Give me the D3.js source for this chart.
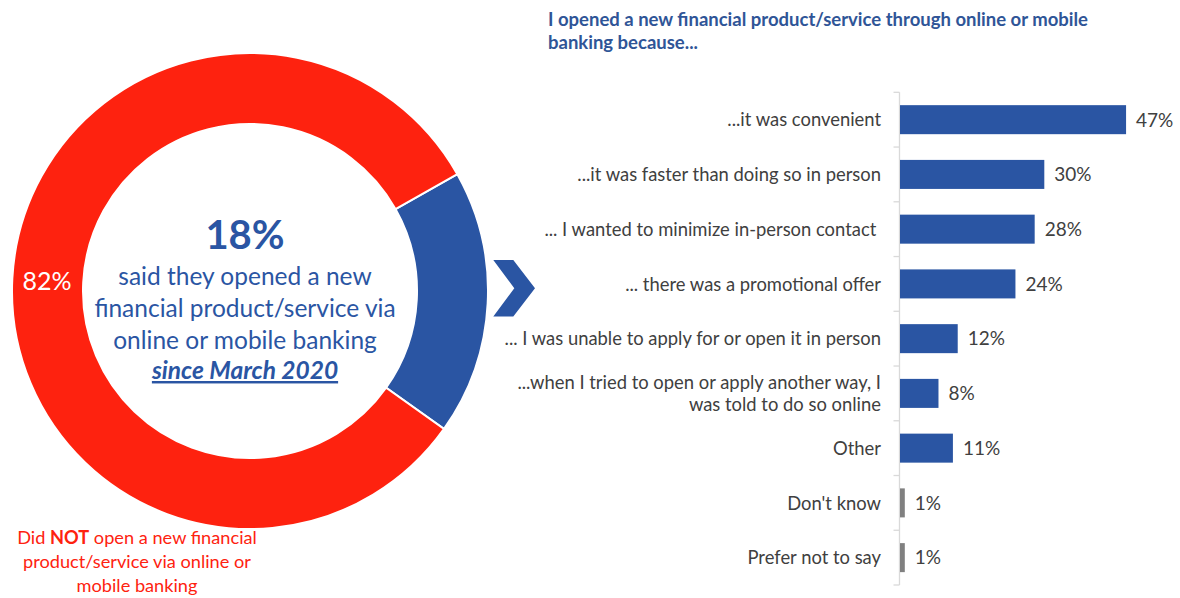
<!DOCTYPE html>
<html>
<head>
<meta charset="utf-8">
<script src="https://cdn.jsdelivr.net/npm/d3@7"></script>
<style>
  html, body { margin: 0; padding: 0; background: #fff; }
  svg { display: block; font-family: Lato, "Open Sans", sans-serif; }
</style>
</head>
<body>
<svg id="chart" width="1180" height="598"></svg>
<script>
// Share of respondents who opened a new product via online/mobile banking
const donutLabels = ["Opened via online or mobile banking", "Did not open"];
const donutValues = [18, 82];

// Reasons given by those who opened one
const reasons = [
  "...it was convenient",
  "...it was faster than doing so in person",
  "... I wanted to minimize in-person contact ",
  "... there was a promotional offer",
  "... I was unable to apply for or open it in person",
  "...when I tried to open or apply another way, I\nwas told to do so online",
  "Other",
  "Don't know",
  "Prefer not to say"
];
const reasonValues = [47, 30, 28, 24, 12, 8, 11, 1, 1];
const greyReasons = ["Don't know", "Prefer not to say"];

const titleLines = [
  "I opened a new financial product/service through online or mobile",
  "banking because..."
];
const centerLines = [
  "said they opened a new",
  "financial product/service via",
  "online or mobile banking"
];
const centerEmphasis = "since March 2020";
const notOpenedLines = [
  ["Did ", "NOT", " open a new financial"],
  ["product/service via online or"],
  ["mobile banking"]
];

const BLUE = "#2A55A3";
const RED = "#FE220F";
const GREY = "#808080";
const TEXT = "#404040";

const svg = d3.select("#chart");

// ---------- Donut ----------
const cx = 250, cy = 291, outerR = 238, innerR = 167;
const start = 60.6 * Math.PI / 180;
const pie = d3.pie().sort(null).startAngle(start).endAngle(start + 2 * Math.PI);
const arc = d3.arc().innerRadius(innerR).outerRadius(outerR);
const arcs = pie(donutValues);
const donut = svg.append("g").attr("transform", `translate(${cx},${cy})`);
donut.selectAll("path")
  .data(arcs)
  .join("path")
  .attr("d", arc)
  .attr("fill", (d, i) => i === 0 ? BLUE : RED)
  .attr("stroke", "#fff")
  .attr("stroke-width", 2);

// 82% label placed on the ring's left side
svg.append("text")
  .attr("x", 47).attr("y", 290)
  .attr("text-anchor", "middle")
  .attr("fill", "#fff")
  .attr("font-size", 25)
  .text(donutValues[1] + "%");

// Central statement
const center = svg.append("g").attr("fill", BLUE).attr("text-anchor", "middle");
center.append("text")
  .attr("x", 245).attr("y", 248.5)
  .attr("font-size", 40).attr("font-weight", 700)
  .text(donutValues[0] + "%");
const lineY = [285, 317, 348.5];
centerLines.forEach((t, i) => {
  center.append("text")
    .attr("x", 245).attr("y", lineY[i])
    .attr("font-size", 24.5)
    .text(t);
});
center.append("text")
  .attr("x", 245).attr("y", 379)
  .attr("font-size", 24.5).attr("font-weight", 700).attr("font-style", "italic")
  .attr("text-decoration", "underline")
  .text(centerEmphasis);

// Caption for the red share
const cap = svg.append("g").attr("fill", RED).attr("text-anchor", "middle");
notOpenedLines.forEach((parts, i) => {
  const t = cap.append("text")
    .attr("x", 137).attr("y", 544 + i * 24)
    .attr("font-size", 18.2);
  parts.forEach(p => {
    t.append("tspan")
      .attr("font-weight", p === "NOT" ? 700 : 400)
      .text(p);
  });
});

// Chevron linking the donut to the breakdown
const chev = d3.path();
chev.moveTo(493.3, 260);
chev.lineTo(513.3, 260);
chev.lineTo(535, 288.3);
chev.lineTo(513.3, 316.5);
chev.lineTo(493.3, 316.5);
chev.lineTo(514.3, 288.3);
chev.closePath();
svg.append("path").attr("d", chev.toString()).attr("fill", BLUE);

// ---------- Bar chart ----------
const title = svg.append("g").attr("fill", "#2F5597").attr("font-weight", 700).attr("font-size", 18.5);
titleLines.forEach((t, i) => {
  title.append("text").attr("x", 548).attr("y", 26 + i * 22.5).text(t);
});

const axisX = 899.5;
const y = d3.scaleBand()
  .domain(reasons)
  .range([92.3, 585])
  .paddingInner(0.47)
  .paddingOuter(0.235);
const x = d3.scaleLinear().domain([0, 50]).range([900, 1140.5]);

// Axis line with ticks at the band boundaries
const axis = svg.append("g").attr("stroke", "#D9D9D9").attr("stroke-width", 1.3);
axis.append("line")
  .attr("x1", axisX).attr("x2", axisX)
  .attr("y1", y.range()[0]).attr("y2", y.range()[1]);
const boundaries = reasons.map(r => y(r) - y.step() * y.paddingInner() / 2)
  .concat([y.range()[1]]);
axis.selectAll("line.tick")
  .data(boundaries)
  .join("line")
  .attr("class", "tick")
  .attr("x1", axisX - 6).attr("x2", axisX)
  .attr("y1", d => d).attr("y2", d => d);

const rows = svg.append("g");
rows.selectAll("rect")
  .data(reasons)
  .join("rect")
  .attr("x", x(0))
  .attr("y", d => y(d))
  .attr("width", (d, i) => x(reasonValues[i]) - x(0))
  .attr("height", y.bandwidth())
  .attr("fill", d => greyReasons.includes(d) ? GREY : BLUE);

// Value labels
rows.selectAll("text.value")
  .data(reasons)
  .join("text")
  .attr("class", "value")
  .attr("x", (d, i) => x(reasonValues[i]) + 10)
  .attr("y", d => y(d) + y.bandwidth() / 2)
  .attr("dy", "0.36em")
  .attr("fill", TEXT)
  .attr("font-size", 19)
  .text((d, i) => reasonValues[i] + "%");

// Category labels (right-aligned, wrapped on newline)
rows.selectAll("text.cat")
  .data(reasons)
  .join("text")
  .attr("class", "cat")
  .attr("text-anchor", "end")
  .attr("fill", TEXT)
  .attr("font-size", 18.4)
  .style("white-space", "pre")
  .each(function (d) {
    const lines = d.split("\n");
    const mid = y(d) + y.bandwidth() / 2;
    const lh = 22.5;
    lines.forEach((ln, k) => {
      d3.select(this).append("tspan")
        .attr("x", 881)
        .attr("y", mid + (k - (lines.length - 1) / 2) * lh)
        .attr("dy", "0.36em")
        .text(ln);
    });
  });
</script>
</body>
</html>
